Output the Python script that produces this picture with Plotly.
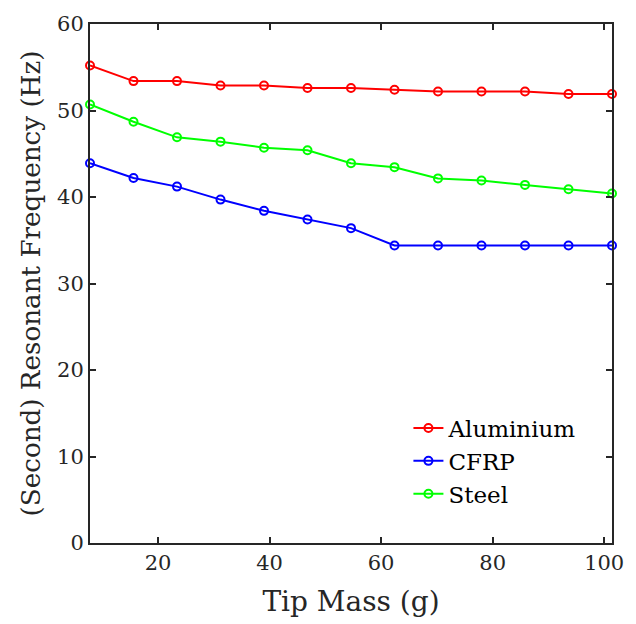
import plotly.graph_objects as go

tip_mass = [7.8, 15.6, 23.4, 31.2, 39.0, 46.8, 54.6, 62.4, 70.2, 78.0, 85.8, 93.6, 101.4]
aluminium = [55.2, 53.4, 53.4, 52.9, 52.9, 52.6, 52.6, 52.4, 52.2, 52.2, 52.2, 51.9, 51.9]
cfrp = [43.9, 42.2, 41.2, 39.7, 38.4, 37.4, 36.4, 34.4, 34.4, 34.4, 34.4, 34.4, 34.4]
steel = [50.7, 48.7, 46.9, 46.4, 45.7, 45.4, 43.9, 43.45, 42.15, 41.9, 41.4, 40.9, 40.4]

series = [("Aluminium", aluminium, "#ff0000"), ("CFRP", cfrp, "#0000ff"), ("Steel", steel, "#00ff00")]

FONT = "DejaVu Serif"
fig = go.Figure()
for name, vals, col in series:
    fig.add_trace(go.Scatter(
        x=tip_mass, y=vals, name=name, mode="lines+markers",
        line=dict(color=col, width=2),
        marker=dict(symbol="circle-open", size=8, color=col, line=dict(width=2, color=col)),
        cliponaxis=False,
    ))

axis_common = dict(
    showline=True, linecolor="#262626", linewidth=2, mirror="ticks",
    ticks="inside", ticklen=6, tickwidth=1.5, tickcolor="#262626",
    showgrid=False, zeroline=False,
    tickfont=dict(family=FONT, size=21, color="#262626"),
)
fig.update_xaxes(range=[7.8, 101.4], tickvals=[20, 40, 60, 80, 100],
                 title=dict(text="Tip Mass (g)", font=dict(family=FONT, size=28, color="#262626"), standoff=17),
                 **axis_common)
fig.update_yaxes(range=[0, 60], tickvals=[0, 10, 20, 30, 40, 50, 60],
                 title=dict(text="(Second) Resonant Frequency (Hz)", font=dict(family=FONT, size=26.2, color="#262626"), standoff=9),
                 **axis_common)
fig.update_layout(
    width=636, height=624,
    margin=dict(l=90, r=24, t=23, b=80),
    paper_bgcolor="white", plot_bgcolor="white",
    font=dict(family=FONT),
    showlegend=True,
    legend=dict(x=0.61, y=0.263, xanchor="left", yanchor="top",
                font=dict(family=FONT, size=23, color="#000000"),
                bgcolor="rgba(255,255,255,0)", borderwidth=0,
                itemwidth=30, tracegroupgap=0),
)
fig.write_html("out.html")
